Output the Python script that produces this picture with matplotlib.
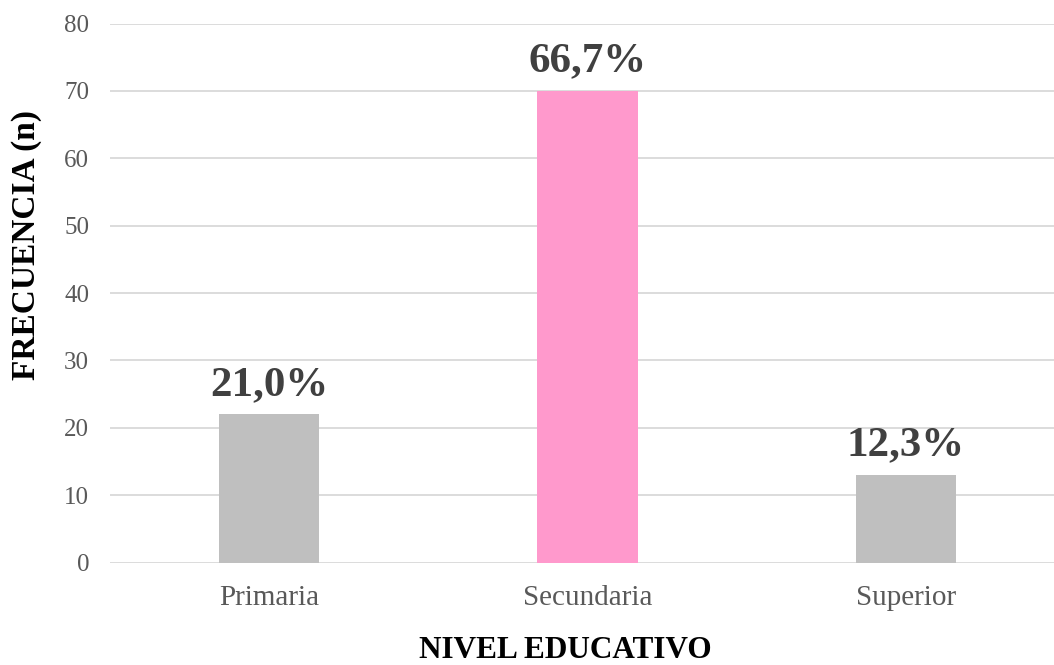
import matplotlib.pyplot as plt

categorias = ["Primaria", "Secundaria", "Superior"]
frecuencia = [22, 70, 13]
porcentajes = ["21,0%", "66,7%", "12,3%"]
colores = ["#BFBFBF", "#FF99CC", "#BFBFBF"]

plt.rcParams['font.family'] = ['Liberation Serif', 'DejaVu Serif']

fig = plt.figure(figsize=(10.54, 6.65), dpi=100)
ax = fig.add_axes([110 / 1054, (665 - 562.5) / 665, (1054 - 110) / 1054, (562.5 - 23.5) / 665])

x = list(range(len(categorias)))
bars = ax.bar(x, frecuencia, width=0.315, color=colores, zorder=2)

# etiquetas de porcentaje sobre cada barra
for b, p in zip(bars, porcentajes):
    ax.annotate(p, (b.get_x() + b.get_width() / 2, b.get_height()),
                xytext=(0, 14), textcoords='offset points',
                ha='center', va='baseline', fontsize=31, fontweight='bold', color='#404040')

ax.set_xlim(-0.5, 2.465)
ax.set_ylim(0, 80)
ax.set_yticks(range(0, 81, 10))
ax.set_xticks(x)
ax.set_xticklabels(categorias, fontsize=21, color='#595959')
ax.tick_params(axis='y', labelsize=18, labelcolor='#595959', length=0, pad=15)
ax.tick_params(axis='x', length=0, pad=16)
ax.grid(axis='y', color='#D9D9D9', linewidth=1.3, zorder=0)
for s in ax.spines.values():
    s.set_visible(False)

ax.set_xlabel("NIVEL EDUCATIVO", fontsize=22.5, fontweight='bold')
ax.set_ylabel("FRECUENCIA (n)", fontsize=24, fontweight='bold')
ax.xaxis.set_label_coords((565.5 - 110) / 944, -(636 - 562.5) / 539)
ax.yaxis.set_label_coords(-(110 - 42) / 944, 1 - (245 - 23.5) / 539)

fig.savefig("out.png", dpi=100)
